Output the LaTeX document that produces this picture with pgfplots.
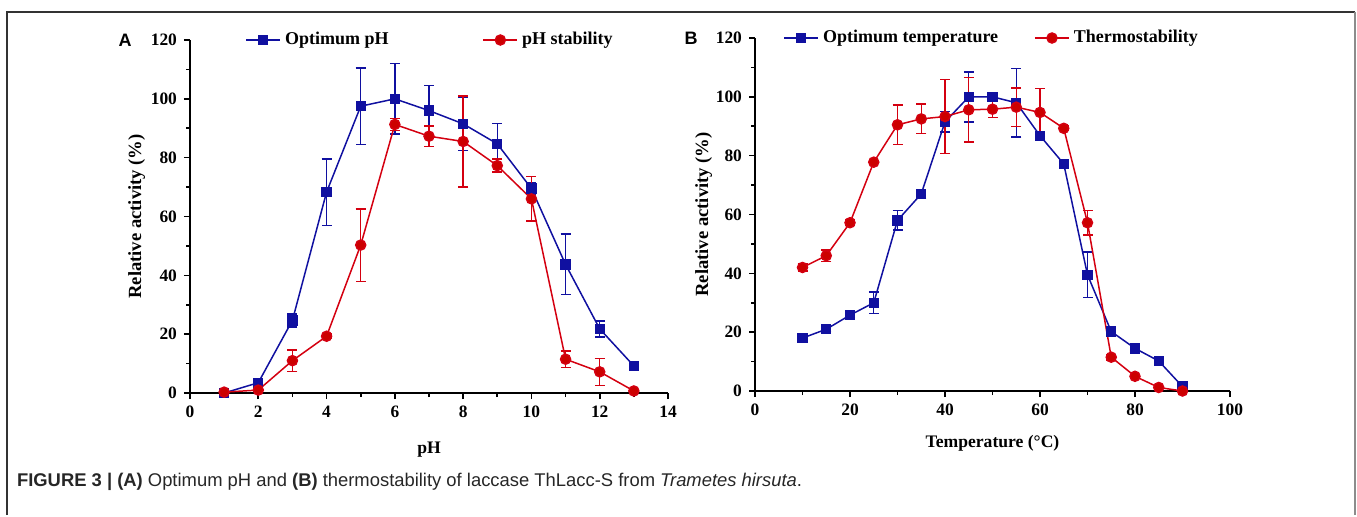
\documentclass[border=0pt]{standalone}
\usepackage{fontspec}
\setmainfont{Liberation Serif}
\setsansfont{Liberation Sans}
\usepackage{pgfplots}
\pgfplotsset{compat=1.18}
\usepackage{pgfplotstable}

\definecolor{optblue}{HTML}{1010A0}
\definecolor{stabred}{HTML}{D40010}

% pH data: x, y, error
\pgfplotstableread{
x y e
1 0 0
2 3.5 0.8
3 24.7 2.2
4 68.3 11.3
5 97.5 13
6 100 12
7 96 8.5
8 91.5 9
9 84.7 7
10 69.5 2
11 43.7 10.3
12 21.8 2.7
13 9.2 0.8
}\optph
\pgfplotstableread{
x y e
1 0.3 0
2 1 0
3 11 3.6
4 19.3 0.8
5 50.3 12.3
6 91.3 2
7 87.3 3.5
8 85.5 15.5
9 77.3 2.2
10 66 7.5
11 11.5 2.8
12 7.2 4.6
13 0.7 0
}\stabph
% temperature data
\pgfplotstableread{
x y e
10 18 1
15 21 0.8
20 25.8 0.8
25 30 3.6
30 58 3.3
35 67 1.5
40 91.5 3.5
45 100 8.5
50 100 0.5
55 98 11.7
60 86.8 0.8
65 77.2 0.8
70 39.5 7.8
75 20.2 0.8
80 14.5 0.8
85 10.2 0.8
90 1.5 0.5
}\opttemp
\pgfplotstableread{
x y e
10 42 1.2
15 46 2
20 57.2 1
25 77.8 0.5
30 90.5 6.7
35 92.5 5
40 93.3 12.5
45 95.6 11
50 95.8 2.9
55 96.5 6.5
60 94.7 8.2
65 89.3 0.8
70 57.2 4.2
75 11.5 1
80 5 0.5
85 1.2 0.3
90 0 0
}\stabtemp

\pgfplotsset{
  panel/.style={
    scale only axis,
    axis x line*=bottom, axis y line*=left,
    axis line style={line width=1pt},
    tick align=outside,
    major tick length=3pt, minor tick length=2pt,
    every tick/.style={line width=0.8pt, black},
    minor x tick num=1, minor y tick num=1,
    ymin=0, ymax=120, ytick={0,20,...,120},
    /pgf/number format/assume math mode=true,
    tick label style={font=\bfseries\fontsize{8.7}{10}\selectfont},
    xlabel style={font=\bfseries\fontsize{8.8}{10}\selectfont},
    ylabel style={font=\bfseries\fontsize{9.3}{10}\selectfont},
    ylabel={Relative activity (\%)},
    legend columns=2,
    legend style={draw=none, fill=none, inner sep=0pt,
      font=\fontsize{9}{10}\selectfont\bfseries, anchor=west},
    clip=false,
  },
  optser/.style={optblue, line width=0.75pt, mark=square*, mark size=2.2pt,
    mark options={solid},
    error bars/.cd, y dir=both, y explicit,
    error bar style={line width=0.7pt, optblue},
    error mark options={rotate=90, mark size=2.5pt, line width=0.7pt, optblue}},
  stabser/.style={stabred, line width=0.75pt, mark=*, mark size=2.5pt,
    error bars/.cd, y dir=both, y explicit,
    error bar style={line width=0.7pt, stabred},
    error mark options={rotate=90, mark size=2.5pt, line width=0.7pt, stabred}},
}

\begin{document}
\begin{tikzpicture}
\path (0pt,0pt) rectangle (678.5pt,-257.5pt);
% frame
\draw[line width=1pt, black!80] (3.5pt,-257.5pt) -- (3.5pt,-6pt) -- (677.5pt,-6pt);
\draw[line width=1pt, black!45] (677.5pt,-6pt) -- (677.5pt,-257.5pt);

\node[font=\sffamily\bfseries\fontsize{9}{10}\selectfont] at (62.5pt,-20pt) {A};
\node[font=\sffamily\bfseries\fontsize{9}{10}\selectfont] at (345.5pt,-19pt) {B};

\begin{axis}[panel,
  at={(95pt,-196.5pt)}, anchor=south west,
  width=239pt, height=176.5pt,
  xmin=0, xmax=14, xtick={0,2,...,14},
  xlabel={pH},
  xlabel style={yshift=-5pt},
  ylabel style={yshift=-4pt},
  legend style={at={(0.115,1.0)},
    /tikz/every even column/.append style={column sep=45pt}},
]
\addplot+[optser] table[x=x, y=y, y error=e] {\optph};
\addplot+[stabser] table[x=x, y=y, y error=e] {\stabph};
\legend{Optimum pH, pH stability}
\end{axis}

\begin{axis}[panel,
  at={(377.5pt,-195.5pt)}, anchor=south west,
  width=237.5pt, height=176.5pt,
  xmin=0, xmax=100, xtick={0,20,...,100},
  minor x tick num=1,
  xlabel={Temperature (°C)},
  xlabel style={yshift=-3pt},
  ylabel style={yshift=-5pt},
  legend style={at={(0.059,1.0)},
    /tikz/every even column/.append style={column sep=16pt}},
]
\addplot+[optser] table[x=x, y=y, y error=e] {\opttemp};
\addplot+[stabser] table[x=x, y=y, y error=e] {\stabtemp};
\legend{Optimum temperature, Thermostability}
\end{axis}

\node[anchor=west, font=\sffamily\fontsize{9.2}{11}\selectfont, text=black!85] at (5pt,-241pt)
  {\textbf{FIGURE 3 | (A)} Optimum pH and \textbf{(B)} thermostability of laccase ThLacc-S from \textit{Trametes hirsuta}.};
\end{tikzpicture}
\end{document}
